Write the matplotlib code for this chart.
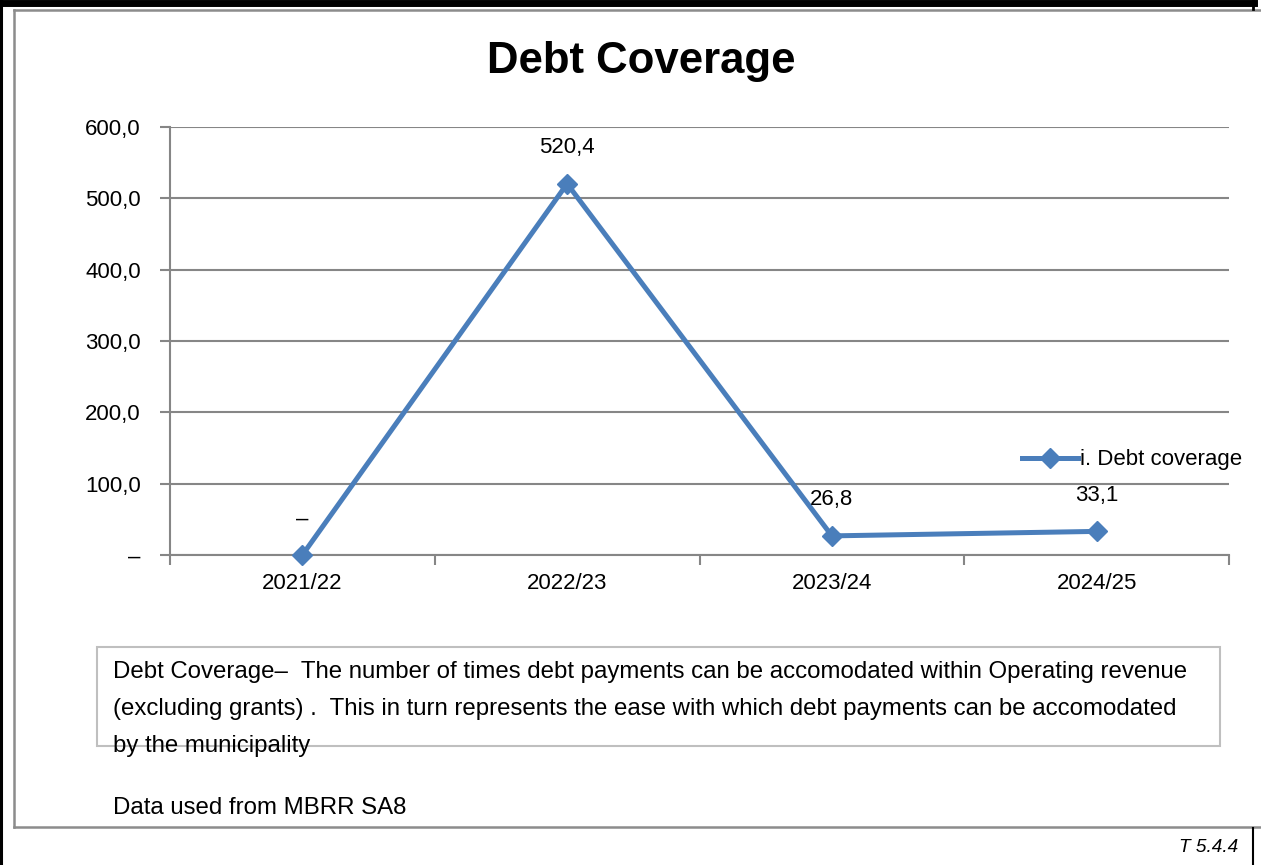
import matplotlib
matplotlib.use("Agg")
import matplotlib.pyplot as plt
from matplotlib.ticker import FuncFormatter, FixedLocator
from matplotlib.patches import Rectangle
from matplotlib.lines import Line2D

categories = ["2021/22", "2022/23", "2023/24", "2024/25"]
values = [0.0, 520.4, 26.8, 33.1]
series_name = "i. Debt coverage"
title = "Debt Coverage"
note_lines = [
    "Debt Coverage\u2013  The number of times debt payments can be accomodated within Operating revenue",
    "(excluding grants) .  This in turn represents the ease with which debt payments can be accomodated",
    "by the municipality",
]
source_text = "Data used from MBRR SA8"
table_ref = "T 5.4.4"

FONT = ["Liberation Sans Narrow", "Liberation Sans", "DejaVu Sans"]
plt.rcParams["font.family"] = FONT

W, H = 1261, 865
fig = plt.figure(figsize=(W / 100, H / 100), dpi=100)

def fx(px):
    return px / W

def fy(py):
    return 1 - py / H

# axes placement
left, right, top, bottom = 170, 1229, 127, 555
ax = fig.add_axes([fx(left), fy(bottom), fx(right - left), (bottom - top) / H])

def fmt(v):
    if abs(v) < 1e-9:
        return "\u2013"
    return f"{v:.1f}".replace(".", ",")

blue = "#4A7EBB"
grid = "#868686"
xs = [i + 0.5 for i in range(len(categories))]
ax.plot(xs, values, color=blue, lw=3.6, marker="D", markersize=10.5,
        markeredgecolor=blue, markerfacecolor=blue, label=series_name,
        solid_joinstyle="round", zorder=3, clip_on=False)

for x, v in zip(xs, values):
    ax.annotate(fmt(v), (x, v), xytext=(0, 26), textcoords="offset points",
                ha="center", va="center", fontsize=16)

ax.set_xlim(0, len(categories))
ax.set_ylim(0, 600)
ax.yaxis.set_major_locator(FixedLocator([0, 100, 200, 300, 400, 500, 600]))
ax.yaxis.set_major_formatter(FuncFormatter(lambda v, p: fmt(v)))
ax.grid(axis="y", color=grid, lw=1.5)
ax.set_axisbelow(True)

ax.xaxis.set_major_locator(FixedLocator(list(range(len(categories) + 1))))
ax.xaxis.set_major_formatter(FuncFormatter(lambda v, p: ""))
ax.xaxis.set_minor_locator(FixedLocator(xs))
ax.set_xticklabels(categories, minor=True)
ax.tick_params(axis="x", which="major", direction="out", length=7, width=1.5, color=grid)
ax.tick_params(axis="x", which="minor", length=0, pad=13, labelsize=16)
ax.tick_params(axis="y", direction="out", length=7, width=1.5, color=grid, labelsize=16, pad=14)

for s in ["top", "right"]:
    ax.spines[s].set_visible(False)
for s in ["left", "bottom"]:
    ax.spines[s].set_color(grid)
    ax.spines[s].set_linewidth(1.5)

# legend
leg = ax.legend(loc="center left", bbox_to_anchor=(fx(1022), fy(460)),
                bbox_transform=fig.transFigure, frameon=False, fontsize=16,
                handlelength=2.5, handletextpad=0.1, borderpad=0, borderaxespad=0)

# title
fig.text(fx(641), fy(62), title, ha="center", va="center", fontsize=31.5, fontweight="bold")

# note box
fig.patches.append(Rectangle((fx(97), fy(746)), fx(1220 - 97), (746 - 647) / H,
                             transform=fig.transFigure, facecolor="white",
                             edgecolor="#BFBFBF", lw=1.5, zorder=1))
for i, line in enumerate(note_lines):
    fig.text(fx(113), fy(672 + 37 * i), line, ha="left", va="center", fontsize=17.3, zorder=2)
fig.text(fx(113), fy(808), source_text, ha="left", va="center", fontsize=17.3)
fig.text(fx(1238), fy(848), table_ref, ha="right", va="center", fontsize=13.7, style="italic")

# frame lines
def hline(y, x0, x1, color, lw):
    fig.lines.append(Line2D([fx(x0), fx(x1)], [fy(y), fy(y)], transform=fig.transFigure,
                            color=color, lw=lw))

def vline(x, y0, y1, color, lw):
    fig.lines.append(Line2D([fx(x), fx(x)], [fy(y0), fy(y1)], transform=fig.transFigure,
                            color=color, lw=lw))

# gray chart border
hline(10, 14, W, "#8C8C8C", 1.8)
hline(827, 14, W, "#8C8C8C", 1.8)
vline(14, 10, 827, "#8C8C8C", 1.8)
# black outer frame
hline(3, 0, 1254, "black", 5)
vline(1.5, 0, H, "black", 2.2)
vline(1253, 0, 9, "black", 2)
vline(1253, 828, H, "black", 1.5)

fig.savefig("out.png", dpi=100)
